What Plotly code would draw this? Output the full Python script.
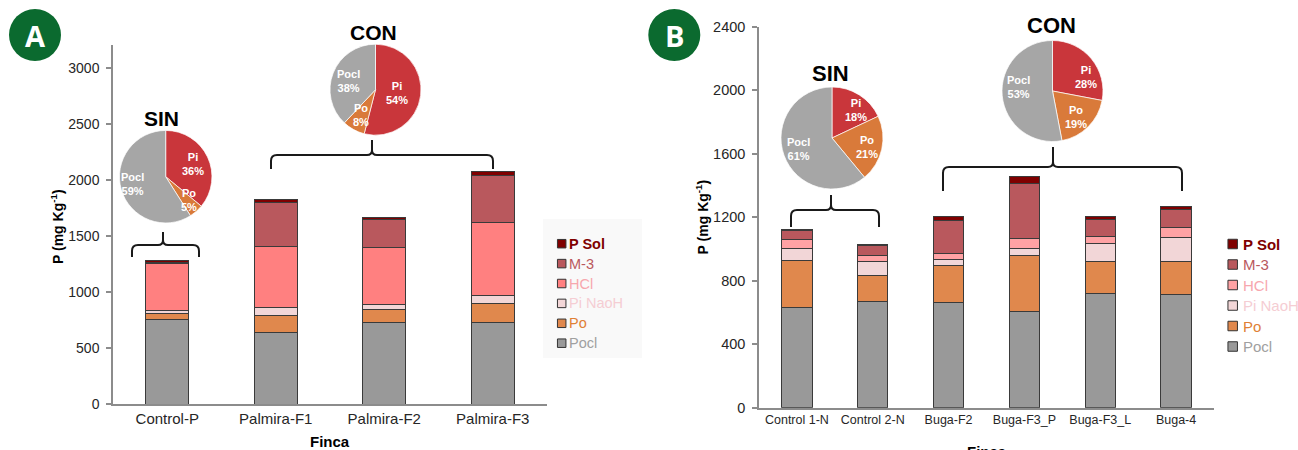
import plotly.graph_objects as go

# ---------------------------------------------------------------- data
fractions = ["Pocl", "Po", "Pi NaoH", "HCl", "M-3", "P Sol"]

farms_a = ["Control-P", "Palmira-F1", "Palmira-F2", "Palmira-F3"]
pocl_a = [755, 638, 733, 730]
po_a = [55, 151, 113, 169]
pinaoh_a = [24, 75, 41, 68]
hcl_a = [423, 540, 511, 650]
m3_a = [6, 391, 252, 422]
psol_a = [17, 33, 12, 36]

farms_b = ["Control 1-N", "Control 2-N", "Buga-F2", "Buga-F3_P", "Buga-F3_L", "Buga-4"]
pocl_b = [631, 671, 665, 605, 717, 715]
po_b = [298, 159, 233, 353, 204, 204]
pinaoh_b = [76, 93, 33, 43, 111, 155]
hcl_b = [52, 34, 38, 65, 44, 63]
m3_b = [59, 63, 208, 346, 110, 114]
psol_b = [9, 10, 25, 43, 16, 16]

pie_labels = ["Pi", "Po", "Pocl"]
pie_sin_a = [36, 5, 59]
pie_con_a = [54, 8, 38]
pie_sin_b = [18, 21, 61]
pie_con_b = [28, 19, 53]

yticks_a = [0, 500, 1000, 1500, 2000, 2500, 3000]
yticks_b = [0, 400, 800, 1200, 1600, 2000, 2400]

# ---------------------------------------------------------------- styling
W, H = 1298, 450
FONT = "Liberation Sans, Arial, sans-serif"
bar_colors_a = ["#999999", "#e0884d", "#f2d6d7", "#ff8080", "#b9585d", "#7f0000"]
bar_colors_b = ["#999999", "#e0884d", "#f2d6d7", "#ffa2a4", "#b9585d", "#7f0000"]
legend_text_colors = ["#a0a0a0", "#e07f35", "#f5cdd3", "#f7a7ae", "#b9585d", "#7f0000"]
pie_colors = ["#c9363b", "#d97a3a", "#a6a6a6"]
axis_color = "#8c8c8c"
tick_color = "#262626"


def px(x):
    return x / W


def py(y):
    return 1 - y / H


def note(x, y, text, size, color, xanchor="center", yanchor="middle", **kw):
    font = dict(family=kw.pop("family", FONT), size=size, color=color)
    if "weight" in kw:
        font["weight"] = kw.pop("weight")
    return dict(x=px(x), y=py(y), xref="paper", yref="paper", text=text,
                showarrow=False, xanchor=xanchor, yanchor=yanchor, font=font, **kw)


fig = go.Figure()

# stacked bars, panel A
series_a = [pocl_a, po_a, pinaoh_a, hcl_a, m3_a, psol_a]
for name, vals, col in zip(fractions, series_a, bar_colors_a):
    fig.add_trace(go.Bar(x=farms_a, y=vals, name=name, marker_color=col,
                         marker_line=dict(color="#3a3a3a", width=1),
                         xaxis="x", yaxis="y", showlegend=False))

# stacked bars, panel B
series_b = [pocl_b, po_b, pinaoh_b, hcl_b, m3_b, psol_b]
for name, vals, col in zip(fractions, series_b, bar_colors_b):
    fig.add_trace(go.Bar(x=farms_b, y=vals, name=name, marker_color=col,
                         marker_line=dict(color="#3a3a3a", width=1),
                         xaxis="x2", yaxis="y2", showlegend=False))

annotations = []
shapes = []

# pies (pixel centre, diameter), labels positioned per slice
pies = [
    ("SIN", pie_sin_a, (165.7, 176.7), 92.5, (161.7, 118), 21,
     [(192.7, 164), (189, 199.5), (132, 184)]),
    ("CON", pie_con_a, (375.5, 89.7), 91, (373, 32.3), 21,
     [(396.7, 93.3), (361, 115.5), (348.7, 80.7)]),
    ("SIN", pie_sin_b, (832, 138), 102, (830.7, 74), 22,
     [(855.7, 110), (866.7, 147), (798, 148.8)]),
    ("CON", pie_con_b, (1052.5, 91), 101, (1051.7, 25), 22,
     [(1086, 76.7), (1075.7, 116.7), (1018.3, 87)]),
]
for title, vals, (cx, cy), d, (tx, ty), tsize, label_pos in pies:
    r = d / 2
    fig.add_trace(go.Pie(labels=pie_labels, values=vals, sort=False,
                         direction="clockwise", rotation=0,
                         marker=dict(colors=pie_colors,
                                     line=dict(color="rgba(255,255,255,0.7)", width=1)),
                         textinfo="none", showlegend=False,
                         domain=dict(x=[px(cx - r), px(cx + r)],
                                     y=[py(cy + r), py(cy - r)])))
    annotations.append(note(tx, ty, f"<b>{title}</b>", tsize, "#000000"))
    for lab, v, (lx, ly) in zip(pie_labels, vals, label_pos):
        annotations.append(note(lx, ly, f"<b>{lab}<br>{v}%</b>", 11, "#ffffff"))


def brace(x0, x1, xc, yh, yend, ytip, r=6, rc=5):
    pts = lambda x, y: f"{px(x):.5f},{py(y):.5f}"
    return (f"M {pts(x0, yend)} L {pts(x0, yh + r)} Q {pts(x0, yh)} {pts(x0 + r, yh)} "
            f"L {pts(xc - rc, yh)} Q {pts(xc, yh)} {pts(xc, yh - rc)} L {pts(xc, ytip)} "
            f"M {pts(xc, yh - rc)} Q {pts(xc, yh)} {pts(xc + rc, yh)} "
            f"L {pts(x1 - r, yh)} Q {pts(x1, yh)} {pts(x1, yh + r)} L {pts(x1, yend)}")


for args in [(132, 199, 163, 245, 257, 232),
             (271, 493, 372, 155, 169, 140),
             (791, 879, 831, 210, 227, 195),
             (943, 1182, 1053, 167, 191, 147)]:
    shapes.append(dict(type="path", xref="paper", yref="paper", path=brace(*args),
                       line=dict(color="#1a1a1a", width=2)))

# legend panels (drawn top-down: P Sol ... Pocl)
shapes.append(dict(type="rect", xref="paper", yref="paper", x0=px(543), x1=px(642),
                   y0=py(358), y1=py(219), fillcolor="#f9f9f9", line=dict(width=0),
                   layer="below"))
legends = [
    (561.7, 567.3, 243.7, 19.9, 8.5, 14.5, bar_colors_a),
    (1232.7, 1241, 244, 20.5, 9.5, 15, bar_colors_b),
]
for mx, tx, y0, step, sz, fsz, cols in legends:
    order = list(range(len(fractions)))[::-1]
    for row, k in enumerate(order):
        yy = y0 + row * step
        shapes.append(dict(type="rect", xref="paper", yref="paper",
                           x0=px(mx - sz / 2), x1=px(mx + sz / 2),
                           y0=py(yy + sz / 2), y1=py(yy - sz / 2),
                           fillcolor=cols[k], line=dict(color="#333333", width=1)))
        name = fractions[k]
        txt = f"<b>{name}</b>" if name == "P Sol" else name
        annotations.append(note(tx, yy, txt, fsz, legend_text_colors[k], xanchor="left"))

# axis titles
for x, y in [(57, 227), (701.7, 216.7)]:
    annotations.append(note(x, y, "<b>P (mg Kg<sup>-1</sup>)</b>", 14, "#000000",
                            textangle=-90))
annotations.append(note(330, 441, "<b>Finca</b>", 15, "#000000"))
annotations.append(note(987, 441, "<b>Finca</b>", 15, "#000000", yanchor="top"))

# panel badges
for cx, letter in [(35, "A"), (674.3, "B")]:
    shapes.append(dict(type="circle", xref="paper", yref="paper",
                       x0=px(cx - 26), x1=px(cx + 26), y0=py(35 + 26), y1=py(35 - 26),
                       fillcolor="#0b6a2f", line=dict(width=0)))
    annotations.append(note(cx, 35.5, f"<b>{letter}</b>", 29, "#ffffff",
                            family="Open Sans, sans-serif", weight=800))

axis_common = dict(showline=True, linecolor=axis_color, linewidth=1.5,
                   showgrid=False, zeroline=False, fixedrange=True)

fig.update_layout(
    width=W, height=H,
    margin=dict(l=0, r=0, t=0, b=0),
    template="none",
    paper_bgcolor="white", plot_bgcolor="white",
    barmode="stack", bargap=0.6,
    showlegend=False,
    xaxis=dict(domain=[px(113), px(547)], anchor="y", type="category",
               range=[-0.5, 3.5], ticks="", automargin=False,
               tickfont=dict(family=FONT, color=tick_color, size=15), **axis_common),
    yaxis=dict(domain=[py(404.3), py(45.3)], anchor="x", range=[0, 3200],
               tickvals=yticks_a, ticks="outside", ticklen=5, tickcolor=axis_color,
               tickwidth=1.5, automargin=False, ticklabelstandoff=4,
               tickfont=dict(family=FONT, color=tick_color, size=14), **axis_common),
    xaxis2=dict(domain=[px(759), px(1214)], anchor="y2", type="category",
                range=[-0.5, 5.5], ticks="", automargin=False,
                tickfont=dict(family=FONT, color=tick_color, size=12.5), **axis_common),
    yaxis2=dict(domain=[py(407.7), py(26.7)], anchor="x2", range=[0, 2400],
                tickvals=yticks_b, ticks="outside", ticklen=5, tickcolor=axis_color,
                tickwidth=1.5, automargin=False, ticklabelstandoff=4,
                tickfont=dict(family=FONT, color=tick_color, size=14.5), **axis_common),
    annotations=annotations,
    shapes=shapes,
)

fig.write_html("out.html")
